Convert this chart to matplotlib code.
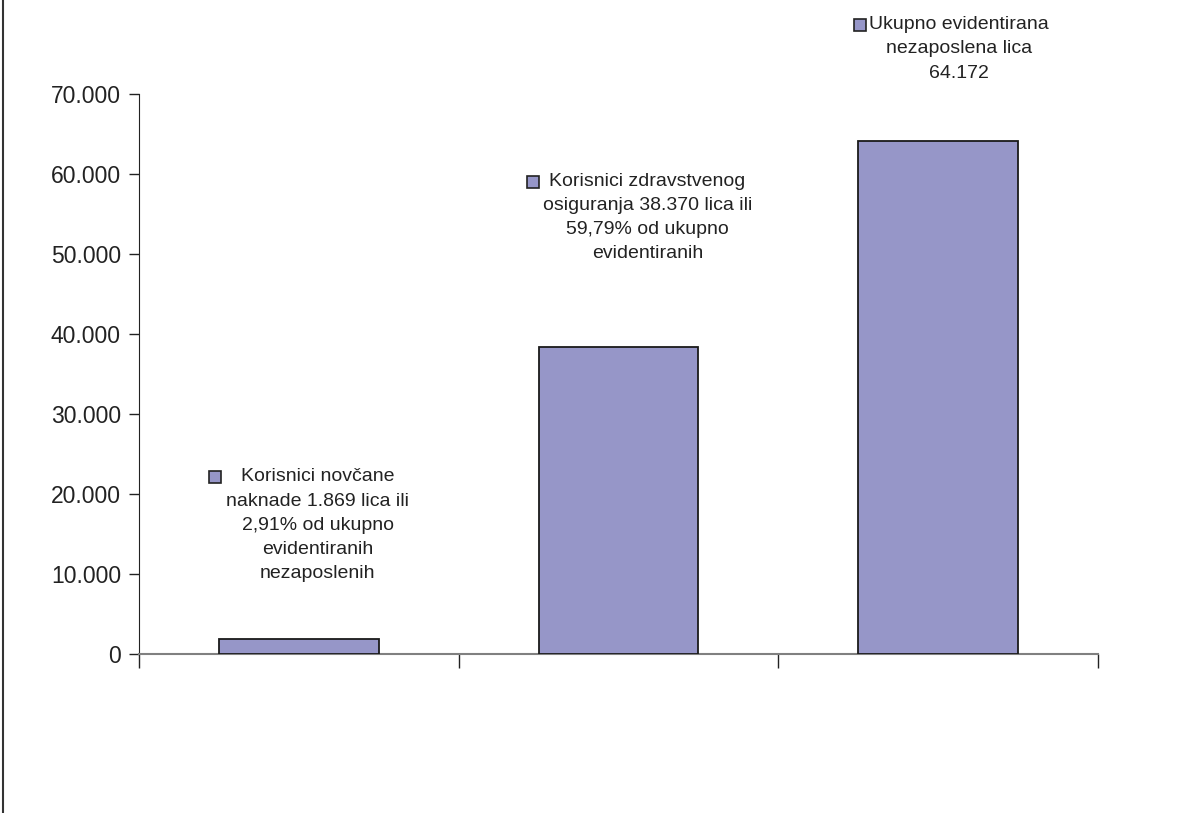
import matplotlib
matplotlib.use("Agg")
import matplotlib.pyplot as plt
from matplotlib.patches import Rectangle
from matplotlib.lines import Line2D

# podaci
vrijednosti = [1869, 38370, 64172]
natpisi = [
    "Korisnici novčane\nnaknade 1.869 lica ili\n2,91% od ukupno\nevidentiranih\nnezaposlenih",
    "Korisnici zdravstvenog\nosiguranja 38.370 lica ili\n59,79% od ukupno\nevidentiranih",
    "Ukupno evidentirana\nnezaposlena lica\n64.172",
]
y_podjela = [0, 10000, 20000, 30000, 40000, 50000, 60000, 70000]
y_oznake = ["0", "10.000", "20.000", "30.000", "40.000", "50.000", "60.000", "70.000"]

boja = "#9696C8"
vel = 16.5      # oznake osi
vel_nat = 14    # natpisi iznad stupaca

plt.rcParams['font.family'] = ['Liberation Sans', 'DejaVu Sans']

fig = plt.figure(figsize=(12.01, 8.13), dpi=100)
ax = fig.add_axes([139 / 1201, 1 - 654 / 813, (1098 - 139) / 1201, (654 - 94) / 813])

x = list(range(len(vrijednosti)))
ax.bar(x, vrijednosti, width=0.5, color=boja, edgecolor="#1a1a1a", linewidth=1.3, zorder=3)

ax.set_xlim(-0.5, 2.5)
ax.set_ylim(0, 70000)
ax.set_yticks(y_podjela)
ax.set_yticklabels(y_oznake)
ax.set_xticks([-0.5, 0.5, 1.5, 2.5])
ax.set_xticklabels([])

ax.spines['top'].set_visible(False)
ax.spines['right'].set_visible(False)
ax.spines['bottom'].set_color("#808080")
ax.spines['bottom'].set_linewidth(1.5)
ax.spines['left'].set_color("#222222")
ax.tick_params(axis='y', length=7, width=1, pad=6, labelsize=vel, color="#222222", labelcolor="#222222")
ax.tick_params(axis='x', length=10, width=1, color="#222222")

# pomaci natpisa (piksela) u odnosu na vrh stupca i razmak kvadratica
pomaci = [(19, 57), (29, 85), (21, 59)]
razmaci = [20, 10, 3]

tekstovi = []
for i, (v, t) in enumerate(zip(vrijednosti, natpisi)):
    a = ax.annotate(t, xy=(i, v), xytext=pomaci[i], textcoords='offset pixels',
                    ha='center', va='bottom', multialignment='center',
                    fontsize=vel_nat, linespacing=1.55, color="#222222")
    tekstovi.append(a)

fig.canvas.draw()
r = fig.canvas.get_renderer()
inv = fig.transFigure.inverted()
for a, t, g in zip(tekstovi, natpisi, razmaci):
    bb = a.get_window_extent(r)
    tmp = fig.text(0, 0, t.split("\n")[0], fontsize=vel_nat)
    w = tmp.get_window_extent(r).width
    tmp.remove()
    cx = (bb.x0 + bb.x1) / 2
    lijevo = cx - w / 2
    s = 12
    x0, y0 = inv.transform((lijevo - g - s, bb.y1 - 9 - s / 2))
    x1, y1 = inv.transform((lijevo - g, bb.y1 - 9 + s / 2))
    fig.add_artist(Rectangle((x0, y0), x1 - x0, y1 - y0, transform=fig.transFigure,
                             facecolor=boja, edgecolor="#222222", linewidth=1.2))

fig.add_artist(Line2D([3 / 1201, 3 / 1201], [0, 1], color="#333333", linewidth=1.5))

plt.savefig("out.png", dpi=100)
